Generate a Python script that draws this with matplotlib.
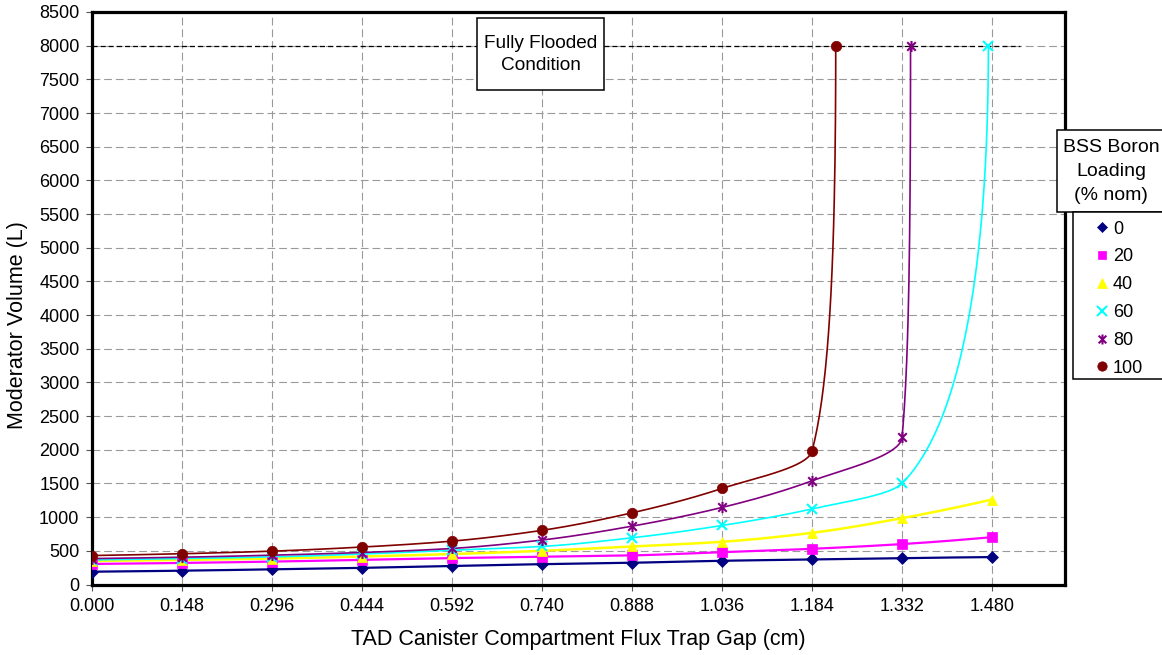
import numpy as np
import matplotlib
matplotlib.use("Agg")
import matplotlib.pyplot as plt
from matplotlib.lines import Line2D
from matplotlib.patches import Rectangle
from matplotlib.path import Path

plt.rcParams['font.family'] = ['Liberation Sans', 'DejaVu Sans']

# ---------------- data ----------------
gap = [0.000, 0.148, 0.296, 0.444, 0.592, 0.740, 0.888, 1.036, 1.184, 1.332, 1.480]

gap_0 = gap
vol_0 = [190, 205, 225, 247, 275, 302, 323, 352, 372, 392, 407]

gap_20 = gap
vol_20 = [305, 320, 340, 365, 392, 412, 432, 480, 530, 600, 703]

gap_40 = gap
vol_40 = [350, 365, 385, 415, 452, 500, 565, 634, 767, 985, 1262]

gap_60 = gap[:10] + [1.474]
vol_60 = [365, 385, 410, 452, 510, 565, 693, 876, 1122, 1500, 8000]

gap_80 = gap[:10] + [1.346]
vol_80 = [385, 405, 435, 475, 535, 660, 866, 1144, 1540, 2183, 8000]

gap_100 = gap[:9] + [1.223]
vol_100 = [430, 457, 495, 556, 644, 804, 1064, 1426, 1980, 8000]

flood_gap = [0.0, 1.526]
flood_vol = [8000, 8000]

labels = ['0', '20', '40', '60', '80', '100']
colors = ['#000080', '#FF00FF', '#FFFF00', '#00FFFF', '#800080', '#800000']

xticks = [0.000, 0.148, 0.296, 0.444, 0.592, 0.740, 0.888, 1.036, 1.184, 1.332, 1.480]
yticks = list(range(0, 8501, 500))

# Excel style "star" marker: an x with a vertical bar
star = Path([(-1, -1), (1, 1), (-1, 1), (1, -1), (0, -1.3), (0, 1.3)],
            [Path.MOVETO, Path.LINETO, Path.MOVETO, Path.LINETO, Path.MOVETO, Path.LINETO])
markers = ['D', 's', '^', 'x', star, 'o']
msizes = [6, 6.5, 7.5, 7.5, 8, 7.5]
lwidths = [1.6, 1.6, 1.8, 1.2, 1.2, 1.2]

XMAX, YMAX = 1.6, 8500
W_PX, H_PX = 973.0, 572.0


# ---------------- smoothed line (parametric pchip in screen space) ----------------
def pchip_slopes(t, y):
    h = np.diff(t)
    d = np.diff(y) / h
    n = len(y)
    m = np.zeros(n)
    if n == 2:
        m[:] = d[0]
        return m
    for k in range(1, n - 1):
        if d[k - 1] * d[k] <= 0:
            m[k] = 0.0
        else:
            w1 = 2 * h[k] + h[k - 1]
            w2 = h[k] + 2 * h[k - 1]
            m[k] = (w1 + w2) / (w1 / d[k - 1] + w2 / d[k])

    def edge(h0, h1, d0, d1):
        s = ((2 * h0 + h1) * d0 - h0 * d1) / (h0 + h1)
        if np.sign(s) != np.sign(d0):
            s = 0.0
        elif np.sign(d0) != np.sign(d1) and abs(s) > 3 * abs(d0):
            s = 3 * d0
        return s

    m[0] = edge(h[0], h[1], d[0], d[1])
    m[-1] = edge(h[-1], h[-2], d[-1], d[-2])
    return m


def smooth(xs, ys, n=40):
    px = np.asarray(xs) / XMAX * W_PX
    py = np.asarray(ys) / YMAX * H_PX
    t = np.concatenate([[0], np.cumsum(np.hypot(np.diff(px), np.diff(py)))])
    mx, my = pchip_slopes(t, px), pchip_slopes(t, py)
    ox, oy = [], []
    for k in range(len(t) - 1):
        hk = t[k + 1] - t[k]
        s = np.linspace(0, 1, n, endpoint=(k == len(t) - 2))
        h00 = 2 * s**3 - 3 * s**2 + 1
        h10 = s**3 - 2 * s**2 + s
        h01 = -2 * s**3 + 3 * s**2
        h11 = s**3 - s**2
        ox.append(h00 * px[k] + h10 * hk * mx[k] + h01 * px[k + 1] + h11 * hk * mx[k + 1])
        oy.append(h00 * py[k] + h10 * hk * my[k] + h01 * py[k + 1] + h11 * hk * my[k + 1])
    return np.concatenate(ox) / W_PX * XMAX, np.concatenate(oy) / H_PX * YMAX


# ---------------- plot ----------------
fig = plt.figure(figsize=(11.62, 6.55), dpi=100)
ax = fig.add_axes([92 / 1162, 1 - 584.5 / 655, 973 / 1162, 572.5 / 655])

ax.set_xlim(0, XMAX)
ax.set_ylim(0, YMAX)
ax.set_xticks(xticks)
ax.set_xticklabels([f"{v:.3f}" for v in xticks])
ax.set_yticks(yticks)
ax.grid(True, color='#9a9a9a', linestyle=(0, (7, 3.5)), linewidth=0.8)
ax.set_axisbelow(True)

ax.plot(flood_gap, flood_vol, color='black', linestyle=(0, (4, 2.5)), linewidth=0.9, zorder=2)

series = [(gap_0, vol_0), (gap_20, vol_20), (gap_40, vol_40),
          (gap_60, vol_60), (gap_80, vol_80), (gap_100, vol_100)]
for (gx, gv), c, mk, ms, lw in zip(series, colors, markers, msizes, lwidths):
    sx, sy = smooth(gx, gv)
    ax.plot(sx, sy, color=c, linewidth=lw, zorder=3)
    mew = 1.5 if mk in ('x',) or mk is star else 0.5
    ax.plot(gx, gv, linestyle='none', marker=mk, markersize=ms, color=c,
            markeredgecolor=c, markeredgewidth=mew, zorder=4)

for sp in ax.spines.values():
    sp.set_linewidth(2.3)
ax.tick_params(direction='out', length=4, width=0.8, color='#555555',
               labelsize=13, pad=5)
ax.tick_params(axis='x', pad=6)

ax.set_xlabel("TAD Canister Compartment Flux Trap Gap (cm)", fontsize=15.5, labelpad=10)
ax.set_ylabel("Moderator Volume (L)", fontsize=15.5)
ax.yaxis.set_label_coords(-0.066, 0.453)

# "Fully Flooded Condition" box
fig.patches.append(Rectangle((477 / 1162, 1 - 90 / 655), 127 / 1162, 72 / 655,
                             transform=fig.transFigure, facecolor='white',
                             edgecolor='black', linewidth=1.1, zorder=5))
fig.text(540.5 / 1162, 1 - 54.5 / 655, "Fully Flooded\nCondition", ha='center',
         va='center', fontsize=13.7, linespacing=1.45, zorder=6)

# legend title box and legend box
fig.patches.append(Rectangle((1057 / 1162, 1 - 212 / 655), 120 / 1162, 82 / 655,
                             transform=fig.transFigure, facecolor='white',
                             edgecolor='black', linewidth=1.1, zorder=5))
fig.text(1111 / 1162, 1 - 171.5 / 655, "BSS Boron\nLoading\n(% nom)", ha='center',
         va='center', fontsize=14, linespacing=1.5, zorder=6)
fig.patches.append(Rectangle((1073 / 1162, 1 - 379 / 655), 100 / 1162, 167 / 655,
                             transform=fig.transFigure, facecolor='white',
                             edgecolor='black', linewidth=1.1, zorder=5))

handles = [Line2D([], [], linestyle='none', marker=mk, markersize=ms * 0.9, color=c,
                  markeredgecolor=c, markeredgewidth=(1.5 if (mk == 'x' or mk is star) else 0.5))
           for mk, ms, c in zip(markers, msizes, colors)]
leg = fig.legend(handles, labels, loc='upper left',
                 bbox_to_anchor=(1094 / 1162, 1 - 220.5 / 655), frameon=False,
                 fontsize=13, handlelength=0.9, handletextpad=0.15,
                 labelspacing=0.6, borderpad=0, borderaxespad=0)
leg.set_zorder(7)

fig.savefig("out.png", dpi=100)
